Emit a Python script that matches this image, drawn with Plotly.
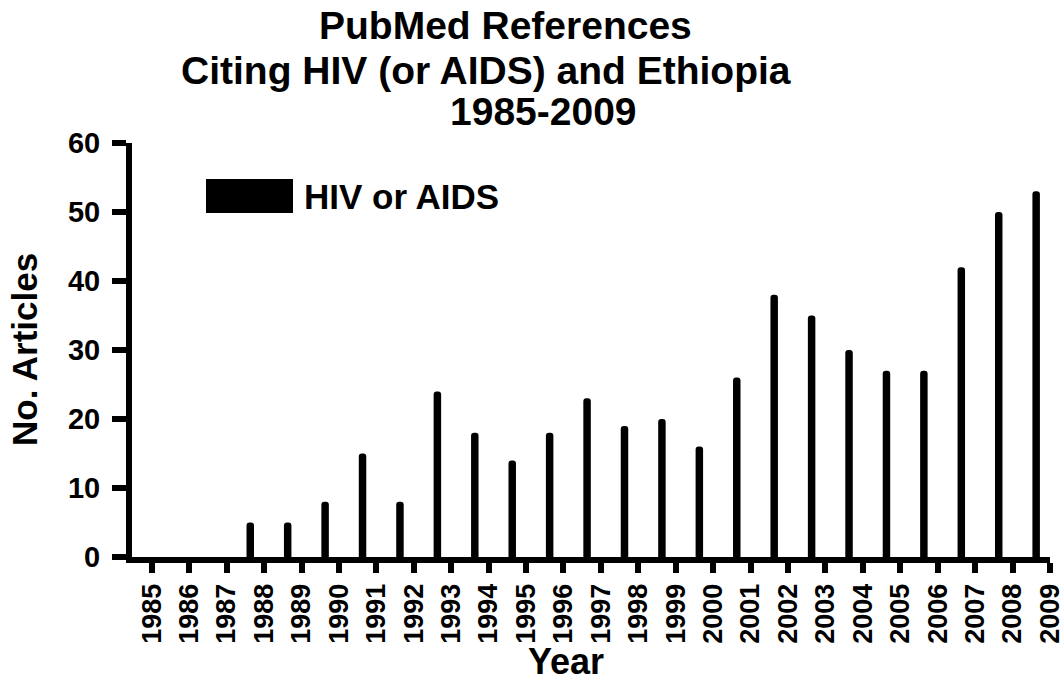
import plotly.graph_objects as go

years = list(range(1985, 2010))
articles = [0, 0, 0, 5, 5, 8, 15, 8, 24, 18, 14, 18, 23, 19, 20, 16, 26, 38, 35, 30, 27, 27, 42, 50, 53]
y_ticks = [0, 10, 20, 30, 40, 50, 60]
title_lines = ["PubMed References", "Citing HIV (or AIDS) and Ethiopia", "1985-2009"]
legend_label = "HIV or AIDS"

FONT = "Liberation Sans, Arial, sans-serif"
W, H = 1064, 684
L, R, T, B = 132, 14, 143, 127
PW, PH = W - L - R, H - T - B


def px_x(p):
    return (p - L) / PW


def px_y(p):
    return (H - B - p) / PH


fig = go.Figure()
fig.add_trace(go.Bar(
    x=years, y=articles, name=legend_label,
    width=0.2, offset=-0.47,
    marker=dict(color="black", line=dict(width=0), cornerradius=3),
    showlegend=False,
))

fig.update_layout(
    width=W, height=H,
    margin=dict(l=L, r=R, t=T, b=B, pad=0, autoexpand=False),
    paper_bgcolor="white", plot_bgcolor="white",
    font=dict(family=FONT, color="black"),
    xaxis=dict(
        range=[1984.47, 2009.0], tickvals=years, ticktext=[str(y) for y in years],
        tickangle=-90, showline=True, linewidth=6, linecolor="black",
        ticks="outside", ticklen=10, tickwidth=6, tickcolor="black",
        showgrid=False, zeroline=False, automargin=False, ticklabeloverflow="allow",
        tickfont=dict(family=FONT, size=27, weight="bold", color="black"),
    ),
    yaxis=dict(
        range=[0, 60], tickvals=y_ticks, showline=True, linewidth=6, linecolor="black",
        ticks="outside", ticklen=14, tickwidth=6, tickcolor="black",
        showgrid=False, zeroline=False, ticklabelstandoff=6, automargin=False,
        ticklabeloverflow="allow",
        tickfont=dict(family=FONT, size=29, weight="bold", color="black"),
    ),
)

# Title lines
title_pos = [(505, 25), (486, 70), (543, 111)]
for text, (cx, cy) in zip(title_lines, title_pos):
    fig.add_annotation(
        text=f"<b>{text}</b>", xref="paper", yref="paper",
        x=px_x(cx), y=px_y(cy), xanchor="center", yanchor="middle",
        showarrow=False, font=dict(family=FONT, size=39, color="black"),
    )

# Axis titles
fig.add_annotation(
    text="<b>No. Articles</b>", xref="paper", yref="paper",
    x=px_x(24), y=px_y(350), xanchor="center", yanchor="middle",
    textangle=-90, showarrow=False, font=dict(family=FONT, size=35, color="black"),
)
fig.add_annotation(
    text="<b>Year</b>", xref="paper", yref="paper",
    x=px_x(566), y=px_y(661), xanchor="center", yanchor="middle",
    showarrow=False, font=dict(family=FONT, size=36, color="black"),
)

# Legend (swatch + label)
fig.add_shape(
    type="rect", xref="paper", yref="paper",
    x0=px_x(206), x1=px_x(293), y0=px_y(213), y1=px_y(179),
    fillcolor="black", line=dict(width=0),
)
fig.add_annotation(
    text=f"<b>{legend_label}</b>", xref="paper", yref="paper",
    x=px_x(302), y=px_y(196), xanchor="left", yanchor="middle",
    showarrow=False, font=dict(family=FONT, size=35, color="black"),
)

fig.write_html(
    "out.html",
    config={"displayModeBar": False},
    post_script="document.body.style.margin='0';",
)
